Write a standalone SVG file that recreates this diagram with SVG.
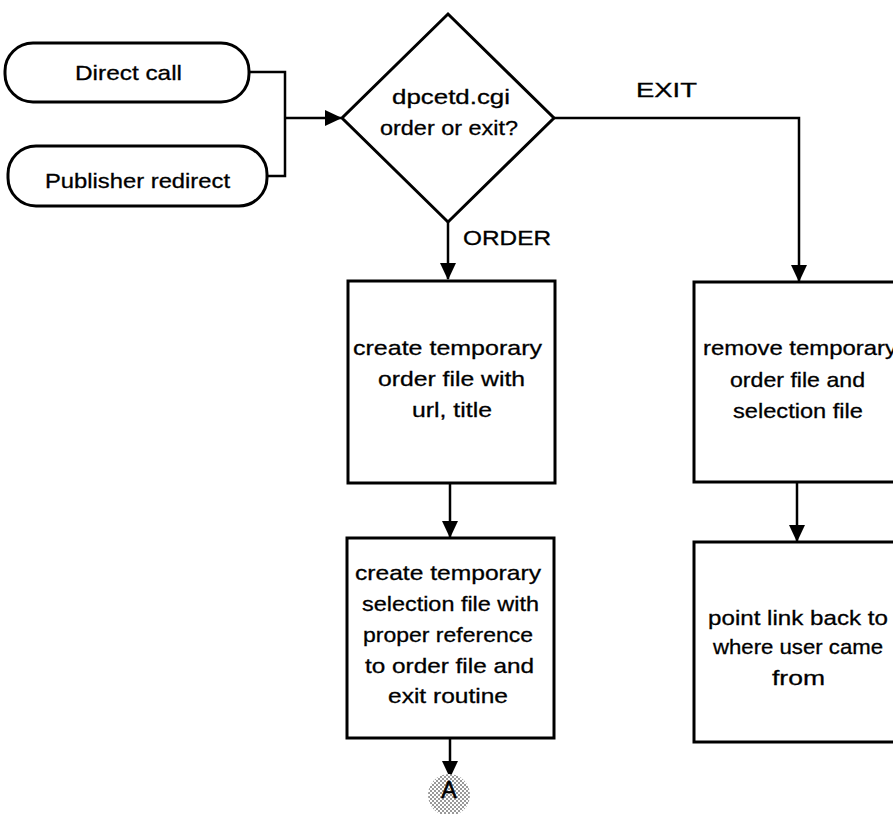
<svg xmlns="http://www.w3.org/2000/svg" width="893" height="814" viewBox="0 0 893 814">
<style>
.shape{fill:#fff;stroke:#000;stroke-width:3}
.conn{fill:none;stroke:#000;stroke-width:2.5}
text{font-family:"Liberation Sans",Arial,sans-serif;font-size:21px;fill:#000;stroke:#000;stroke-width:0.3}
.c{text-anchor:middle}
</style>
<defs>
<marker id="arr" markerUnits="userSpaceOnUse" markerWidth="17" markerHeight="18" refX="16" refY="8" orient="auto">
<path d="M0,0 L17,8 L0,16 Z" fill="#000"/>
</marker>
<pattern id="dots" width="4" height="4" patternUnits="userSpaceOnUse">
<rect width="4" height="4" fill="#fff"/>
<circle cx="1" cy="1" r="0.75" fill="#000"/>
<circle cx="3" cy="3" r="0.75" fill="#000"/>
</pattern>
</defs>
<g id="connectors">
<path class="conn" d="M249,72 H285 V176 H267"/>
<path class="conn" d="M285,118 H341" marker-end="url(#arr)"/>
<path class="conn" d="M448,222 V279" marker-end="url(#arr)"/>
<path class="conn" d="M554,118 H799 V281" marker-end="url(#arr)"/>
<path class="conn" d="M450,483 V537" marker-end="url(#arr)"/>
<path class="conn" d="M450,738 V777" marker-end="url(#arr)"/>
<path class="conn" d="M797,482 V541" marker-end="url(#arr)"/>
</g>
<g id="direct-call">
<rect class="shape" x="5" y="43" width="244" height="59" rx="28" ry="28"/>
<text x="75" y="80" textLength="107" lengthAdjust="spacingAndGlyphs">Direct call</text>
</g>
<g id="publisher-redirect">
<rect class="shape" x="8" y="146" width="259" height="60" rx="28" ry="28"/>
<text x="45" y="188" textLength="185" lengthAdjust="spacingAndGlyphs">Publisher redirect</text>
</g>
<g id="decision">
<path class="shape" d="M448,14 L554,118 L448,222 L342,118 Z"/>
<text x="392" y="104" textLength="118" lengthAdjust="spacingAndGlyphs">dpcetd.cgi</text>
<text x="380" y="135" textLength="138" lengthAdjust="spacingAndGlyphs">order or exit?</text>
</g>
<g id="label-order">
<text x="463" y="245" textLength="88" lengthAdjust="spacingAndGlyphs">ORDER</text>
</g>
<g id="label-exit">
<text x="636" y="97" textLength="61" lengthAdjust="spacingAndGlyphs">EXIT</text>
</g>
<g id="create-order-file">
<rect class="shape" x="348" y="281" width="207" height="202"/>
<text x="353" y="355" textLength="189" lengthAdjust="spacingAndGlyphs">create temporary</text>
<text x="378" y="386" textLength="147" lengthAdjust="spacingAndGlyphs">order file with</text>
<text x="412" y="417" textLength="80" lengthAdjust="spacingAndGlyphs">url, title</text>
</g>
<g id="create-selection-file">
<rect class="shape" x="347" y="538" width="207" height="200"/>
<text x="355" y="580" textLength="186" lengthAdjust="spacingAndGlyphs">create temporary</text>
<text x="362" y="611" textLength="177" lengthAdjust="spacingAndGlyphs">selection file with</text>
<text x="363" y="642" textLength="170" lengthAdjust="spacingAndGlyphs">proper reference</text>
<text x="365" y="673" textLength="169" lengthAdjust="spacingAndGlyphs">to order file and</text>
<text x="388" y="703" textLength="120" lengthAdjust="spacingAndGlyphs">exit routine</text>
</g>
<g id="connector-a">
<circle cx="449" cy="795" r="21" fill="url(#dots)"/>
<text x="449" y="798" class="c" style="font-size:23px;stroke-width:0.6">A</text>
</g>
<g id="remove-files">
<rect class="shape" x="694" y="282" width="210" height="200"/>
<text x="703" y="355" textLength="194" lengthAdjust="spacingAndGlyphs">remove temporary</text>
<text x="730" y="387" textLength="135" lengthAdjust="spacingAndGlyphs">order file and</text>
<text x="733" y="418" textLength="130" lengthAdjust="spacingAndGlyphs">selection file</text>
</g>
<g id="point-link-back">
<rect class="shape" x="694" y="542" width="210" height="200"/>
<text x="708" y="625" textLength="180" lengthAdjust="spacingAndGlyphs">point link back to</text>
<text x="713" y="654" textLength="170" lengthAdjust="spacingAndGlyphs">where user came</text>
<text x="772" y="685" textLength="53" lengthAdjust="spacingAndGlyphs">from</text>
</g>
</svg>
